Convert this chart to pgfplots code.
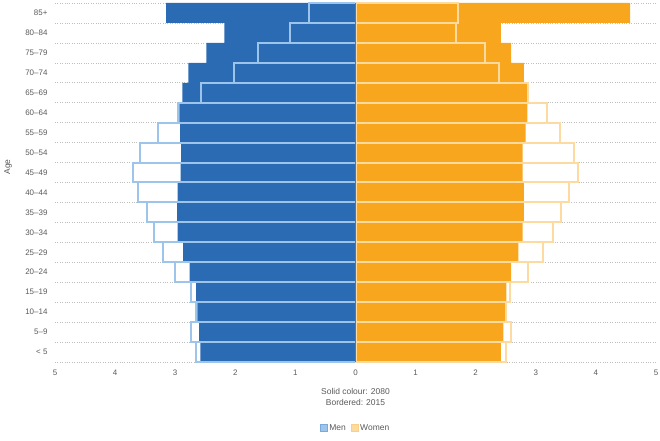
\documentclass[border=0pt]{standalone}
\usepackage{pgfplots}
\usepackage{pgfplotstable}
\pgfplotsset{compat=1.18}
\usepackage{fontspec}
\setmainfont{Liberation Sans}

\definecolor{menblue}{RGB}{43,107,180}
\definecolor{menlight}{RGB}{157,196,234}
\definecolor{womenorange}{RGB}{248,166,30}
\definecolor{womenlight}{RGB}{252,218,160}
\definecolor{txt}{RGB}{90,90,90}

% Share of population (%) by age group; 2080 projection and 2015
\pgfplotstableread{
idx m80  m15  w80  w15
0   2.58 2.66 2.42 2.51
1   2.60 2.74 2.46 2.58
2   2.63 2.66 2.50 2.51
3   2.65 2.74 2.51 2.57
4   2.76 3.00 2.59 2.87
5   2.87 3.21 2.71 3.12
6   2.96 3.35 2.78 3.29
7   2.97 3.47 2.80 3.42
8   2.96 3.62 2.80 3.56
9   2.91 3.71 2.78 3.71
10  2.90 3.59 2.78 3.63
11  2.92 3.28 2.83 3.41
12  2.93 2.95 2.86 3.18
13  2.88 2.57 2.85 2.87
14  2.78 2.02 2.80 2.38
15  2.48 1.63 2.59 2.15
16  2.18 1.09 2.42 1.68
17  3.15 0.78 4.57 1.71
}\pop

\begin{document}
\begin{tikzpicture}
\useasboundingbox (-55bp,-79bp) rectangle (605bp,362bp);
\begin{axis}[
  scale only axis,
  width=601bp, height=359bp,
  xmin=-5, xmax=5,
  ymin=-0.5, ymax=17.5,
  clip=false,
  axis line style={draw=none},
  major tick length=0pt, minor tick length=0pt,
  xtick={-5,...,5},
  xticklabels={5,4,3,2,1,0,1,2,3,4,5},
  ytick={0,...,17},
  yticklabels={< 5,5–9,10–14,15–19,20–24,25–29,30–34,35–39,40–44,45–49,50–54,55–59,60–64,65–69,70–74,75–79,80–84,85+},
  minor ytick={-0.5,0.5,...,17.5},
  yminorgrids=true,
  minor grid style={black!25, dotted, line width=0.6bp},
  ticklabel style={font=\fontsize{8}{9.6}\selectfont, text=txt},
  xticklabel style={yshift=-4bp},
  yticklabel style={xshift=-4bp},
  legend style={at={(0.5,-0.184)}, anchor=center, draw=none, fill=none,
    font=\fontsize{8.5}{10}\selectfont, text=txt, legend columns=2,
    /tikz/every even column/.append style={column sep=3bp},
    inner sep=0pt},
  legend image code/.code={\draw[#1] (0bp,-3.5bp) rectangle (7bp,3.5bp);},
]
% solid bars: 2080
\addplot[xbar, bar width=1, bar shift=0, fill=menblue, draw=none, forget plot]
  table[x expr=-\thisrow{m80}, y=idx] {\pop};
\addplot[xbar, bar width=1, bar shift=0, fill=womenorange, draw=none, forget plot]
  table[x=w80, y=idx] {\pop};
% bordered bars: 2015
\addplot[xbar, bar width=1, bar shift=0, fill=none, draw=menlight, line width=2bp, forget plot]
  table[x expr=-\thisrow{m15}, y=idx] {\pop};
\addplot[xbar, bar width=1, bar shift=0, fill=none, draw=womenlight, line width=2bp, forget plot]
  table[x=w15, y=idx] {\pop};
\draw[black!55, line width=0.7bp] (axis cs:0,-0.5) -- (axis cs:0,17.5);
\addlegendimage{fill=menlight, draw=menlight!70!menblue, line width=0.5bp}
\addlegendentry{Men}
\addlegendimage{fill=womenlight, draw=womenlight!80!womenorange, line width=0.5bp}
\addlegendentry{Women}
\end{axis}
\node[font=\fontsize{8.5}{11}\selectfont, text=txt, align=center] at ([yshift=-35bp]current axis.south)
  {Solid colour: 2080\\Bordered: 2015};
\node[rotate=90, font=\fontsize{8.5}{10}\selectfont, text=txt] at ([xshift=-47bp, yshift=195bp]current axis.south west) {Age};
\end{tikzpicture}
\end{document}
